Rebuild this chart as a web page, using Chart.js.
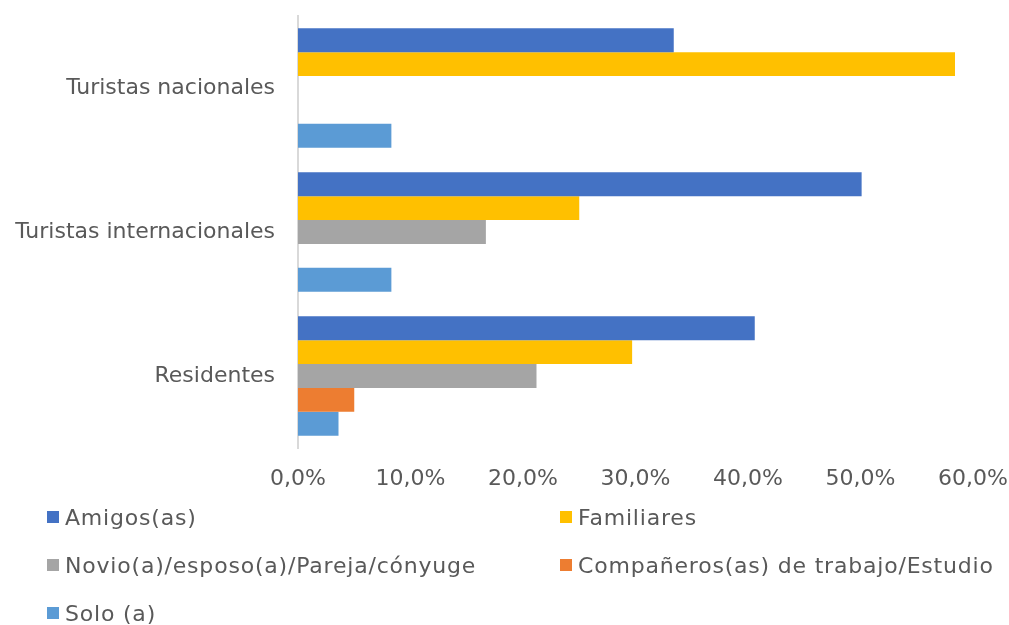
<!DOCTYPE html>
<html>
<head>
<meta charset="utf-8">
<script src="https://cdn.jsdelivr.net/npm/chart.js@4.4.0/dist/chart.umd.min.js"></script>
<style>
    body { margin: 0; background: #fff; }
    #wrap { position: relative; width: 1009px; height: 625px; }
    #chartBox { position: absolute; left: 0; top: 0; width: 1009px; height: 500px; }
    #legend { position: absolute; left: 0; top: 0; width: 1009px; height: 625px; pointer-events: none; }
    .legend-item {
        position: absolute;
        display: flex;
        align-items: center;
        font-family: "DejaVu Sans", sans-serif;
        font-size: 22px;
        letter-spacing: 0.8px;
        color: #595959;
        white-space: nowrap;
        height: 30px;
    }
    .legend-box { width: 12px; height: 12px; margin-right: 6px; }
</style>
</head>
<body>
<div id="wrap">
    <div id="chartBox"><canvas id="chart"></canvas></div>
    <div id="legend"></div>
</div>
<script>
// Data (percent)
const categories = ['Turistas nacionales', 'Turistas internacionales', 'Residentes'];
const seriesNames = ['Amigos(as)', 'Familiares', 'Novio(a)/esposo(a)/Pareja/cónyuge', 'Compañeros(as) de trabajo/Estudio', 'Solo (a)'];
const amigos = [33.4, 50.1, 40.6];
const familiares = [58.4, 25.0, 29.7];
const pareja = [0, 16.7, 21.2];
const companeros = [0, 0, 5.0];
const solo = [8.3, 8.3, 3.6];
const xTicks = [0, 10, 20, 30, 40, 50, 60];

const colors = ['#4472C4', '#FFC000', '#A5A5A5', '#ED7D31', '#5B9BD5'];
const values = [amigos, familiares, pareja, companeros, solo];

const textColor = '#595959';
Chart.defaults.font.family = '"DejaVu Sans", sans-serif';
Chart.defaults.font.size = 22;
Chart.defaults.color = textColor;

const ctx = document.getElementById('chart').getContext('2d');
const chart = new Chart(ctx, {
    type: 'bar',
    data: {
        labels: categories,
        datasets: seriesNames.map((name, i) => ({
            label: name,
            data: values[i],
            backgroundColor: colors[i],
            borderWidth: 0,
            barPercentage: 1,
            categoryPercentage: 0.83
        }))
    },
    options: {
        indexAxis: 'y',
        responsive: true,
        maintainAspectRatio: false,
        animation: false,
        layout: { padding: { top: 16, right: 36, bottom: 0, left: 0 } },
        plugins: {
            legend: { display: false },
            tooltip: { enabled: false }
        },
        scales: {
            x: {
                min: 0,
                max: 60,
                afterBuildTicks: (scale) => {
                    scale.ticks = xTicks.map(v => ({ value: v }));
                },
                afterFit: (scale) => {
                    scale.height = 52;
                    scale.paddingLeft = 0;
                    scale.paddingRight = 0;
                },
                grid: { display: false, drawTicks: false },
                border: { display: false },
                ticks: {
                    padding: 18,
                    callback: (v) => v.toFixed(1).replace('.', ',') + '%'
                }
            },
            y: {
                afterFit: (scale) => {
                    scale.width = 298;
                    scale.paddingTop = 0;
                    scale.paddingBottom = 0;
                },
                grid: { display: false, drawTicks: false },
                border: { display: true, color: '#D9D9D9', width: 2 },
                ticks: { padding: 23 }
            }
        }
    }
});

// Legend in two columns, built from the chart datasets
const legendPos = [[47, 517], [560, 517], [47, 565], [560, 565], [47, 613]];
const legendEl = document.getElementById('legend');
chart.data.datasets.forEach((ds, i) => {
    const item = document.createElement('div');
    item.className = 'legend-item';
    item.style.left = legendPos[i][0] + 'px';
    item.style.top = (legendPos[i][1] - 15) + 'px';
    item.innerHTML = `<span class="legend-box" style="background:${ds.backgroundColor}"></span><span>${ds.label}</span>`;
    legendEl.appendChild(item);
});
</script>
</body>
</html>
